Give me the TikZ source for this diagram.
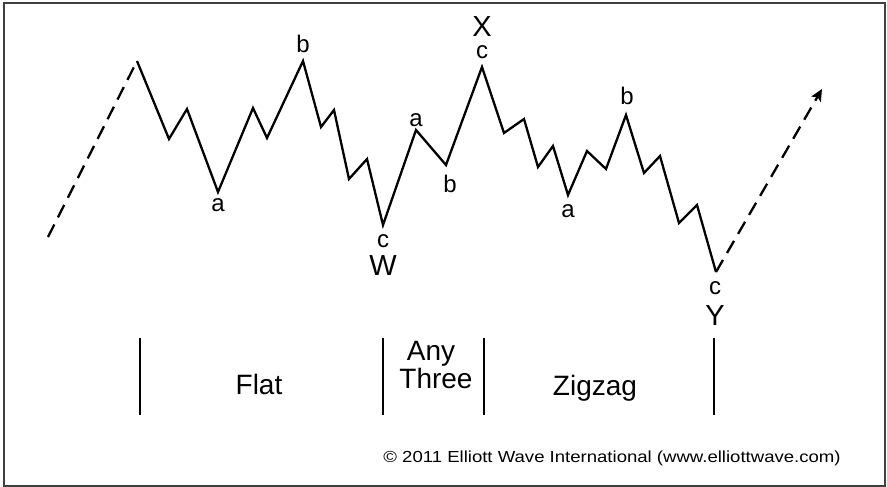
\documentclass[tikz,border=0pt]{standalone}
\usepackage{fontspec}
\setmainfont{Liberation Sans}
\usetikzlibrary{arrows.meta}
\begin{document}
\begin{tikzpicture}[x=1pt,y=-1pt,
  wave/.style={line width=2.3pt, line join=miter},
  dashwave/.style={line width=2.3pt, dash pattern=on 14pt off 8pt},
  bar/.style={line width=2.6pt},
  lbl/.style={inner sep=0pt, anchor=base, font=\fontsize{24}{26}\selectfont},
  biglbl/.style={inner sep=0pt, anchor=base, font=\fontsize{29}{32}\selectfont},
  seglbl/.style={inner sep=0pt, anchor=base, font=\fontsize{28}{32}\selectfont},
  framebox/.style={line width=1.5pt, draw=black!75}]
\useasboundingbox (0,0) rectangle (887,487);
\draw[framebox] (4,3) rectangle (885,486);
% wave vertices
\coordinate (s0) at (48,237);
\coordinate (p0) at (137,61);
\coordinate (p1) at (169,139);
\coordinate (p2) at (187,109);
\coordinate (A1) at (218,192);
\coordinate (p3) at (253,108);
\coordinate (p4) at (267,138);
\coordinate (B1) at (303,61);
\coordinate (p5) at (321,127);
\coordinate (p6) at (334,110);
\coordinate (p7) at (349,179);
\coordinate (p8) at (367,159);
\coordinate (Wp) at (383,225);
\coordinate (A2) at (416,130);
\coordinate (B2) at (446,165);
\coordinate (Xp) at (482,67);
\coordinate (p9) at (504,133);
\coordinate (p10) at (524,119);
\coordinate (p11) at (538,167);
\coordinate (p12) at (553,146);
\coordinate (A3) at (568,195);
\coordinate (p13) at (587,151);
\coordinate (p14) at (606,169);
\coordinate (B3) at (626,115);
\coordinate (p15) at (644,173);
\coordinate (p16) at (660,156);
\coordinate (p17) at (679,223);
\coordinate (p18) at (697,205);
\coordinate (Yp) at (716,272);
\coordinate (e0) at (822,89);
\draw[dashwave] (s0) -- (p0);
\draw[wave] (p0) -- (p1) -- (p2) -- (A1) -- (p3) -- (p4) -- (B1) -- (p5) -- (p6) -- (p7) -- (p8) -- (Wp)
  -- (A2) -- (B2) -- (Xp) -- (p9) -- (p10) -- (p11) -- (p12) -- (A3) -- (p13) -- (p14) -- (B3)
  -- (p15) -- (p16) -- (p17) -- (p18) -- (Yp);
\draw[dashwave, -{Stealth[length=12pt,width=11pt,inset=3pt]}] (Yp) -- (e0);
% labels
\node[lbl] (la1) at (218,211) {a};
\node[lbl] (lb1) at (303,53) {b};
\node[lbl] (lc1) at (383,247) {c};
\node[biglbl] (lW) at (383,275) {W};
\node[lbl] (la2) at (416,127) {a};
\node[lbl] (lb2) at (450,192) {b};
\node[biglbl] (lX) at (482,37) {X};
\node[lbl] (lc2) at (482,59) {c};
\node[lbl] (la3) at (568,217) {a};
\node[lbl] (lb3) at (627,105) {b};
\node[lbl] (lc3) at (715,294) {c};
\node[biglbl] (lY) at (715,325) {Y};
% segment bars
\coordinate (t1) at (140,338); \coordinate (u1) at (140,415);
\coordinate (t2) at (383,338); \coordinate (u2) at (383,415);
\coordinate (t3) at (484,338); \coordinate (u3) at (484,415);
\coordinate (t4) at (714,338); \coordinate (u4) at (714,415);
\draw[bar] (t1) -- (u1);
\draw[bar] (t2) -- (u2);
\draw[bar] (t3) -- (u3);
\draw[bar] (t4) -- (u4);
\node[seglbl] (flat) at (259,394) {Flat};
\node[seglbl] (any) at (431,360) {Any};
\node[seglbl] (three) at (436,388) {Three};
\node[seglbl] (zig) at (595,395) {Zigzag};
\node[inner sep=0pt, anchor=base] (copy) at (612,462) {\scalebox{1.16}[1]{\fontsize{16}{19}\selectfont © 2011 Elliott Wave International (www.elliottwave.com)}};
\end{tikzpicture}
\end{document}
